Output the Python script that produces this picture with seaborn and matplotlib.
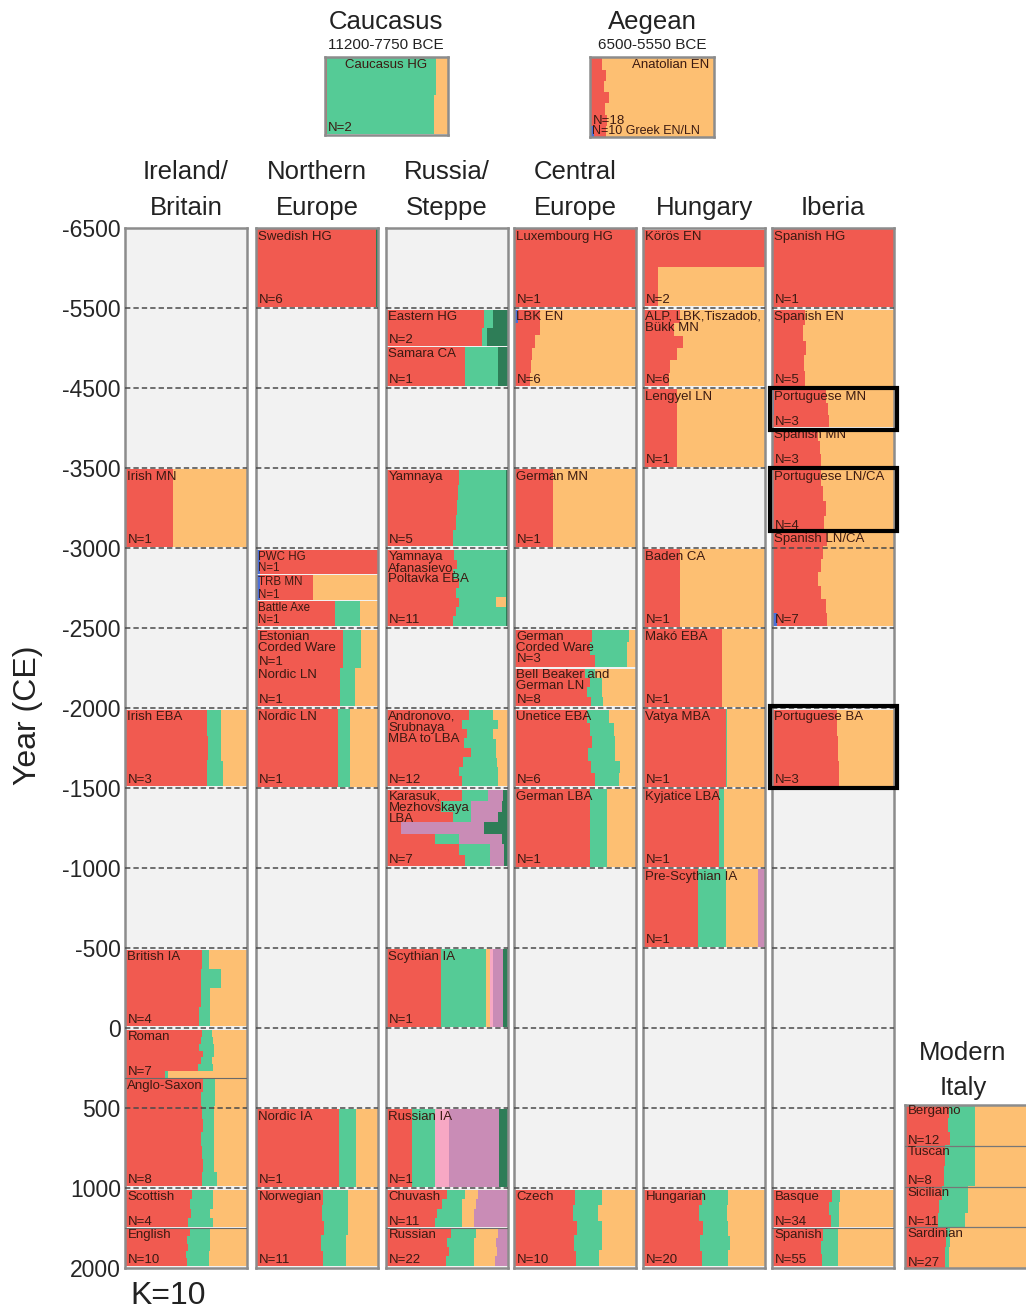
import numpy as np
import pandas as pd
import seaborn as sns
import matplotlib.pyplot as plt
from matplotlib.patches import Rectangle

sns.set_style("white")
plt.rcParams['font.family'] = ['Liberation Sans', 'DejaVu Sans']

# ancestry components, drawn left to right inside each individual strip
components = ["blue", "red", "green", "orange", "pink", "mauve", "dkgreen"]
comp_colors = sns.color_palette(["#4d6fd6", "#f15a50", "#55cb96", "#fdbf72",
                                 "#f7a8c4", "#c98cb6", "#2e7d57"])

year_ticks = ["-6500", "-5500", "-4500", "-3500", "-3000", "-2500", "-2000",
              "-1500", "-1000", "-500", "0", "500", "1000", "2000"]

regions = [("Ireland/", "Britain"), ("Northern", "Europe"), ("Russia/", "Steppe"),
           ("Central", "Europe"), ("", "Hungary"), ("", "Iberia")]

# (name, N, start bin, end bin, strips of [blue, red, green, orange, pink, mauve, dkgreen])
ireland = [
    ("Irish MN", 1, 3.0, 4.0, [[0, .39, 0, .61]]),
    ("Irish EBA", 3, 6.0, 7.0, [[.01, .66, .12, .21], [0, .68, .11, .21], [0, .67, .13, .20]]),
    ("British IA", 4, 9.0, 10.0, [[0, .63, .06, .31], [0, .62, .17, .21], [0, .62, .08, .30], [0, .61, .09, .30]]),
    ("Roman", 7, 10.0, 10.63, [[0, .63, .08, .29], [0, .62, .10, .28], [0, .61, .12, .27], [0, .64, .09, .27],
                              [0, .62, .09, .29], [0, .60, .12, .28], [0, .33, .02, .65]]),
    ("Anglo-Saxon", 8, 10.63, 12.0, [[0, .64, .10, .26], [0, .62, .12, .26], [0, .63, .10, .27], [0, .64, .09, .27],
                                     [0, .62, .11, .27], [0, .63, .10, .27], [0, .64, .09, .27], [0, .63, .12, .25]]),
    ("Scottish", 4, 12.0, 12.5, [[0, .55, .17, .28], [0, .53, .19, .28], [0, .54, .16, .30], [0, .52, .20, .28]]),
    ("English", 10, 12.5, 13.0, [[0, .53, .17, .30], [0, .51, .19, .30], [0, .52, .18, .30], [0, .50, .19, .31],
                                 [0, .51, .18, .31]]),
]

northern = [
    ("Swedish HG", 6, 0.0, 1.0, [[0, .98, 0, 0, 0, 0, .02]]),
    ("PWC HG", 1, 4.0, 4.33, [[.03, .97]]),
    ("TRB MN", 1, 4.33, 4.66, [[.03, .44, 0, .53]]),
    ("Battle Axe", 1, 4.66, 5.0, [[0, .65, .20, .15]]),
    ("Estonian\nCorded Ware", 1, 5.0, 5.5, [[0, .71, .15, .14]]),
    ("Nordic LN", 1, 5.5, 6.0, [[0, .69, .12, .19]]),
    ("Nordic LN", 1, 6.0, 7.0, [[0, .67, .10, .23]]),
    ("Nordic IA", 1, 11.0, 12.0, [[0, .68, .14, .18]]),
    ("Norwegian", 11, 12.0, 13.0, [[0, .55, .20, .25], [0, .54, .21, .25], [0, .56, .19, .25], [0, .53, .21, .26],
                                   [0, .55, .19, .26]]),
]

steppe = [
    ("Eastern HG", 2, 1.0, 1.48, [[0, .80, .08, 0, 0, 0, .12], [0, .79, .04, 0, 0, 0, .17]]),
    ("Samara CA", 1, 1.48, 2.0, [[0, .65, .27, 0, 0, 0, .08]]),
    ("Yamnaya", 5, 3.0, 4.0, [[0, .60, .38, 0, 0, 0, .02], [0, .59, .39, 0, 0, 0, .02], [0, .58, .40, 0, 0, 0, .02],
                              [0, .57, .41, 0, 0, 0, .02], [0, .55, .43, 0, 0, 0, .02]]),
    ("Yamnaya\nAfanasievo,\nPoltavka EBA", 11, 4.0, 5.0,
     [[0, .56, .42, 0, 0, 0, .02], [0, .58, .40, 0, 0, 0, .02], [0, .55, .43, 0, 0, 0, .02], [0, .60, .38, 0, 0, 0, .02],
      [0, .57, .41, 0, 0, 0, .02], [0, .60, .30, .08, 0, 0, .02], [0, .57, .41, 0, 0, 0, .02], [0, .55, .43, 0, 0, 0, .02]]),
    ("Andronovo,\nSrubnaya\nMBA to LBA", 12, 6.0, 7.0,
     [[0, .68, .20, .12], [0, .62, .30, .08], [0, .66, .22, .12], [0, .64, .26, .10], [0, .70, .20, .10],
      [0, .63, .28, .09], [0, .60, .32, .08], [0, .62, .30, .08]]),
    ("Karasuk,\nMezhovskaya\nLBA", 7, 7.0, 8.0,
     [[0, .62, .22, 0, 0, .12, .04], [0, .45, .25, 0, 0, .25, .05], [0, .55, .15, 0, 0, .22, .08],
      [0, .12, 0, 0, 0, .68, .20], [0, .40, .20, 0, 0, .35, .05], [0, .60, .25, 0, 0, .12, .03],
      [0, .65, .20, 0, 0, .12, .03]]),
    ("Scythian IA", 1, 9.0, 10.0, [[0, .45, .37, .03, .03, .08, .04]]),
    ("Russian IA", 1, 11.0, 12.0, [[0, .21, .19, 0, .12, .41, .07]]),
    ("Chuvash", 11, 12.0, 12.5, [[0, .50, .15, .10, 0, .25], [0, .46, .16, .12, 0, .26],
                                 [0, .42, .20, .10, 0, .28], [0, .40, .22, .10, 0, .28]]),
    ("Russian", 22, 12.5, 13.0, [[0, .53, .21, .18, 0, .08], [0, .50, .22, .18, 0, .10],
                                 [0, .52, .20, .19, 0, .09], [0, .49, .23, .17, 0, .11]]),
]

central = [
    ("Luxembourg HG", 1, 0.0, 1.0, [[0, 1]]),
    ("LBK EN", 6, 1.0, 2.0, [[.03, .18, 0, .79], [0, .21, 0, .79], [0, .17, 0, .83], [0, .15, 0, .85],
                             [0, .14, 0, .86], [0, .13, 0, .87]]),
    ("German MN", 1, 3.0, 4.0, [[0, .32, 0, .68]]),
    ("German\nCorded Ware\nN=3", 3, 5.0, 5.5, [[0, .64, .30, .06], [0, .62, .31, .07], [0, .66, .27, .07]]),
    ("Bell Beaker and\nGerman LN", 8, 5.5, 6.0, [[0, .58, .08, .34], [0, .62, .10, .28], [0, .60, .12, .28],
                                                [0, .63, .10, .27]]),
    ("Unetice EBA", 6, 6.0, 7.0, [[0, .60, .18, .22], [0, .62, .20, .18], [0, .64, .19, .17], [0, .61, .22, .17],
                                  [0, .63, .24, .13], [0, .66, .20, .14]]),
    ("German LBA", 1, 7.0, 8.0, [[0, .62, .14, .24]]),
    ("Czech", 10, 12.0, 13.0, [[0, .50, .22, .28], [0, .48, .21, .31], [0, .52, .20, .28], [0, .49, .23, .28],
                               [0, .51, .19, .30]]),
]

hungary = [
    ("Körös EN", 2, 0.0, 1.0, [[0, 1], [0, .12, 0, .88]]),
    ("ALP, LBK,Tiszadob,\nBükk MN", 6, 1.0, 2.0, [[0, .30, 0, .70], [0, .25, 0, .75], [0, .33, 0, .67],
                                                  [0, .28, 0, .72], [0, .22, 0, .78], [0, .21, 0, .79]]),
    ("Lengyel LN", 1, 2.0, 3.0, [[0, .28, 0, .72]]),
    ("Baden CA", 1, 4.0, 5.0, [[0, .30, 0, .70]]),
    ("Makó EBA", 1, 5.0, 6.0, [[0, .65, 0, .35]]),
    ("Vatya MBA", 1, 6.0, 7.0, [[0, .68, .01, .31]]),
    ("Kyjatice LBA", 1, 7.0, 8.0, [[0, .62, .04, .34]]),
    ("Pre-Scythian IA", 1, 8.0, 9.0, [[0, .45, .23, .26, 0, .06]]),
    ("Hungarian", 20, 12.0, 13.0, [[0, .48, .22, .30], [0, .46, .23, .31], [0, .49, .21, .30],
                                   [0, .47, .24, .29], [0, .48, .22, .30]]),
]

iberia = [
    ("Spanish HG", 1, 0.0, 1.0, [[0, 1]]),
    ("Spanish EN", 5, 1.0, 2.0, [[0, .27, 0, .73], [0, .25, 0, .75], [0, .28, 0, .72], [0, .26, 0, .74],
                                 [0, .27, 0, .73]]),
    ("Portuguese MN", 3, 2.0, 2.5, [[.02, .42, 0, .56], [.02, .44, 0, .54], [.01, .46, 0, .53]]),
    ("Spanish MN", 3, 2.5, 3.0, [[0, .38, 0, .62], [0, .39, 0, .61], [0, .40, 0, .60]]),
    ("Portuguese LN/CA", 4, 3.0, 3.8, [[0, .40, 0, .60], [0, .42, 0, .58], [0, .44, 0, .56], [0, .43, 0, .57]]),
    ("Spanish LN/CA", 7, 3.8, 5.0, [[0, .45, 0, .55], [0, .42, 0, .58], [0, .40, 0, .60], [0, .38, 0, .62],
                                    [0, .40, 0, .60], [0, .44, 0, .56], [.04, .41, 0, .55]]),
    ("Portuguese BA", 3, 6.0, 7.0, [[0, .53, 0, .47], [0, .54, 0, .46], [0, .55, 0, .45]]),
    ("Basque", 34, 12.0, 12.5, [[0, .49, .07, .44], [0, .47, .08, .45], [0, .48, .07, .45]]),
    ("Spanish", 55, 12.5, 13.0, [[0, .42, .12, .46], [0, .40, .14, .46], [0, .41, .13, .46]]),
]
highlighted = [(2.0, 2.52), (3.0, 3.79), (5.97, 7.0)]

italy = [
    ("Bergamo", 12, 0.0, 0.51, [[0, .36, .21, .43], [0, .35, .22, .43], [0, .37, .20, .43]]),
    ("Tuscan", 8, 0.51, 1.02, [[0, .33, .24, .43], [0, .32, .25, .43]]),
    ("Sicilian", 11, 1.02, 1.53, [[0, .30, .22, .48], [0, .28, .24, .48], [0, .27, .22, .51]]),
    ("Sardinian", 27, 1.53, 2.04, [[0, .34, .03, .63], [0, .33, .03, .64]]),
]

caucasus = [("Caucasus HG", 2, 0.0, 0.975, [[0, .02, .88, .10], [0, .02, .87, .11]])]
aegean = [
    ("Anatolian EN", 18, 0.0, 0.86, [[0, .10, 0, .90], [0, .13, 0, .87], [0, .11, 0, .89], [0, .15, 0, .85],
                                     [0, .12, 0, .88], [0, .14, 0, .86]]),
    ("Greek EN/LN", 10, 0.86, 1.0, [[.03, .10, 0, .87]]),
]

W, H = 1026, 1312
fig = plt.figure(figsize=(W / 100, H / 100), dpi=100)
text_col = "#3b1a12"


def px_axes(x, y, w, h):
    return fig.add_axes([x / W, 1 - (y + h) / H, w / W, h / H])


def style_axes(ax, ymax):
    ax.set_xlim(0, 1)
    ax.set_ylim(ymax, 0)
    ax.set_facecolor("#f2f2f2")
    ax.set_xticks([])
    ax.set_yticks([])
    for sp in ax.spines.values():
        sp.set_color("#8c8c8c")
        sp.set_linewidth(1.8)


def draw_block(ax, name, n, top, bottom, strips, gaps=(0.03, 0.03), name_ha="left", inline=False):
    mat = pd.DataFrame([s + [0] * (len(components) - len(s)) for s in strips], columns=components)
    mat = mat.div(mat.sum(axis=1), axis=0)
    lefts = mat.cumsum(axis=1) - mat
    k = len(mat)
    y0, y1 = top + gaps[0], bottom - gaps[1]
    h = (y1 - y0) / k
    ys = y0 + h * (np.arange(k) + 0.5)
    for comp, col in zip(components, comp_colors):
        w = mat[comp].values
        if w.sum() == 0:
            continue
        ax.barh(ys, w, left=lefts[comp].values, height=h * 1.03, color=col, linewidth=0, zorder=2)
    fs = 9.5 if (bottom - top) > 0.4 else 8.3
    if inline:
        ax.text(0.02, y1, "N=%d %s" % (n, name), fontsize=9, color=text_col,
                va="bottom", ha="left", zorder=5)
        return
    tx = {"left": 0.02, "center": 0.5, "right": 0.96}[name_ha]
    ax.text(tx, y0 + 0.005, name, fontsize=fs, color=text_col, va="top", ha=name_ha,
            linespacing=0.92, zorder=5)
    if "N=" not in name:
        ax.text(0.02, y1 + 0.01, "N=%d" % n, fontsize=fs, color=text_col,
                va="bottom", ha="left", zorder=5)


def block_gaps(top, bottom):
    # wider gap at the dashed period lines, narrow seam between touching groups
    return (0.03 if top == int(top) else 0.01, 0.03 if bottom == int(bottom) else 0.01)


col_left = [125, 256, 386, 514, 643, 772]
region_pops = [ireland, northern, steppe, central, hungary, iberia]

for i, (x0, pops, title) in enumerate(zip(col_left, region_pops, regions)):
    ax = px_axes(x0, 228, 122, 1040)
    style_axes(ax, 13)
    for name, n, top, bottom, strips in pops:
        draw_block(ax, name, n, top, bottom, strips, gaps=block_gaps(top, bottom))
        if bottom != int(bottom) and bottom > 10:
            ax.axhline(bottom, color="#6a6a6a", lw=0.8, zorder=3)
    for r in range(1, 13):
        ax.axhline(r, color="#4a4a4a", ls=(0, (3.5, 2)), lw=1.1, zorder=3)
    if i == 0:
        ax.set_yticks(range(14))
        ax.set_yticklabels(year_ticks, fontsize=16.5)
        ax.tick_params(axis="y", length=0, pad=3)
    cx = (x0 + 61) / W
    if title[0]:
        fig.text(cx, 1 - 172 / H, title[0], ha="center", va="center", fontsize=18.5, color="#222222")
    fig.text(cx, 1 - 208 / H, title[1], ha="center", va="center", fontsize=18.5, color="#222222")
    if i == 5:
        for top, bottom in highlighted:
            ax.add_patch(Rectangle((-0.016, top), 1.04, bottom - top, fill=False, lw=3,
                                   ec="black", clip_on=False, zorder=6))

# Modern Italy
ax = px_axes(905, 1105, 122, 163)
style_axes(ax, 2.04)
for name, n, top, bottom, strips in italy:
    draw_block(ax, name, n, top, bottom, strips, gaps=(0.0, 0.0))
for r in [0.51, 1.02, 1.53]:
    ax.axhline(r, color="#777777", lw=0.9, zorder=3)
fig.text(963 / W, 1 - 1053 / H, "Modern", ha="center", va="center", fontsize=18.5, color="#222222")
fig.text(963 / W, 1 - 1088 / H, "Italy", ha="center", va="center", fontsize=18.5, color="#222222")

# Caucasus
ax = px_axes(325, 57, 123, 78)
style_axes(ax, 0.975)
for name, n, top, bottom, strips in caucasus:
    draw_block(ax, name, n, top, bottom, strips, gaps=(0.02, 0.02), name_ha="center")
fig.text(386 / W, 1 - 22 / H, "Caucasus", ha="center", va="center", fontsize=18.5, color="#222222")
fig.text(386 / W, 1 - 45 / H, "11200-7750 BCE", ha="center", va="center", fontsize=11, color="#222222")

# Aegean
ax = px_axes(590, 57, 124, 80)
style_axes(ax, 1.0)
draw_block(ax, *aegean[0], gaps=(0.02, 0.0), name_ha="right")
draw_block(ax, *aegean[1], gaps=(0.0, 0.0), inline=True)
fig.text(652 / W, 1 - 22 / H, "Aegean", ha="center", va="center", fontsize=18.5, color="#222222")
fig.text(652 / W, 1 - 45 / H, "6500-5550 BCE", ha="center", va="center", fontsize=11, color="#222222")

fig.text(28 / W, 1 - 715 / H, "Year (CE)", rotation=90, ha="center", va="center", fontsize=23, color="#222222")
fig.text(130 / W, 1 - 1281 / H, "K=10", ha="left", va="top", fontsize=23, color="#222222")

fig.savefig("out.png", dpi=100)
